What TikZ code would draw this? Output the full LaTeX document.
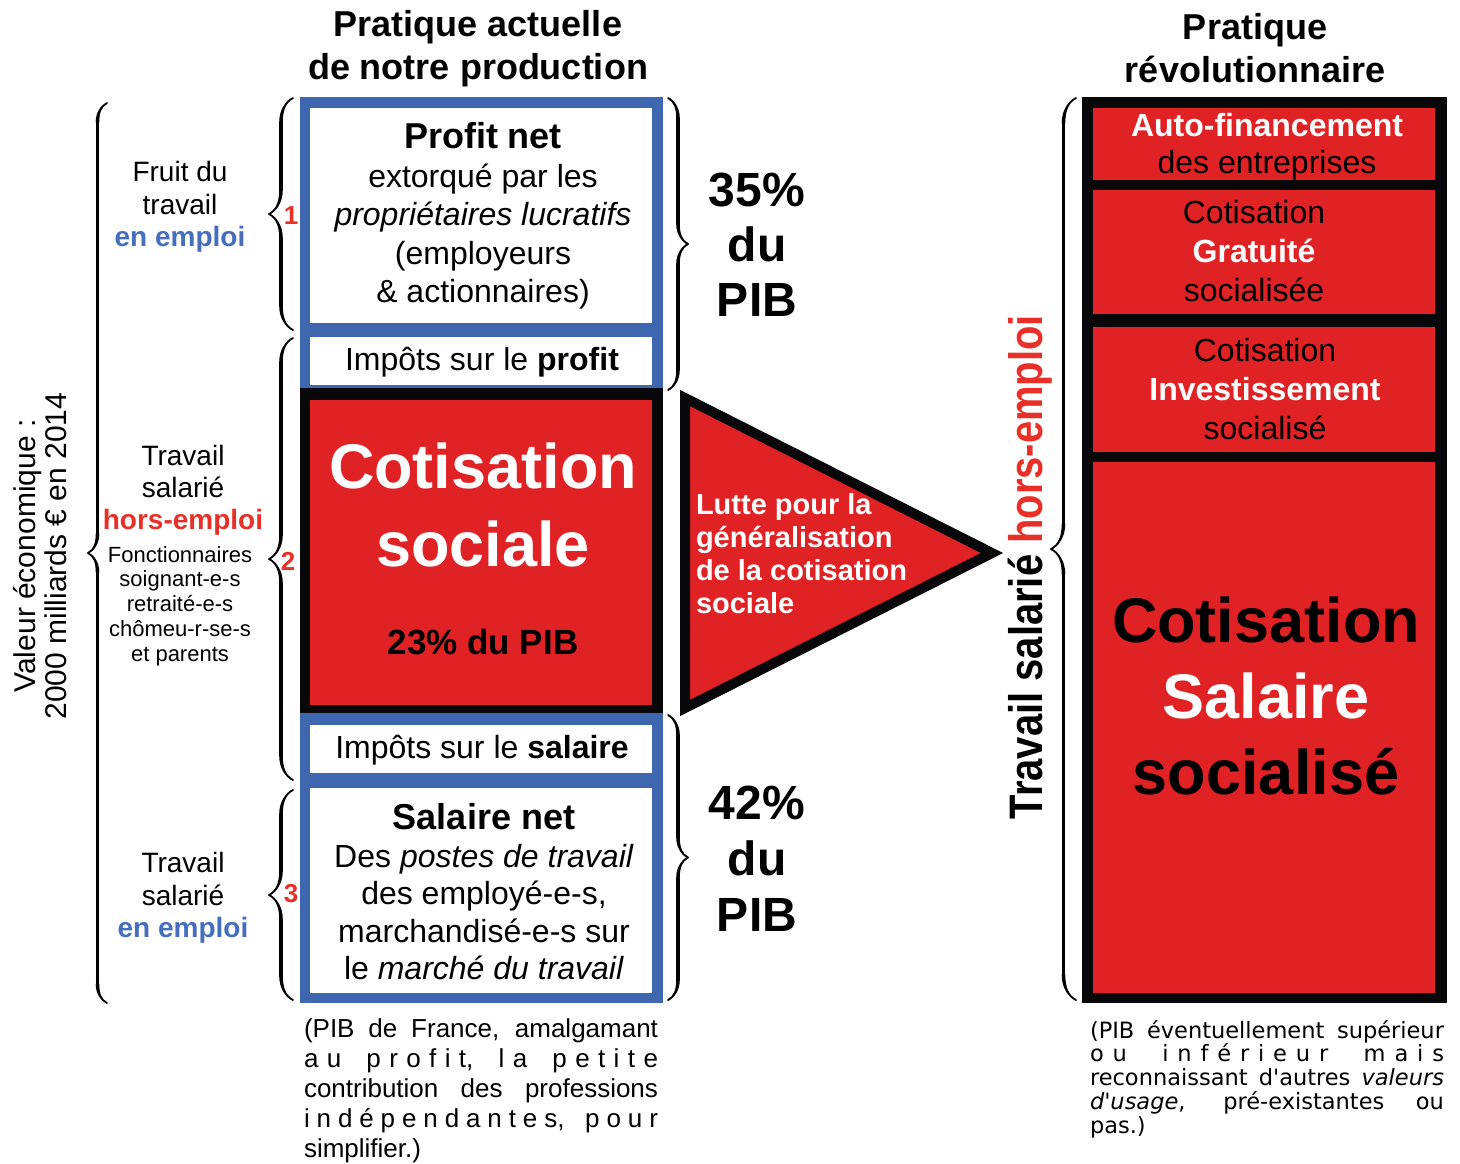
\documentclass[tikz,border=0pt]{standalone}
\usepackage{fontspec}
\setmainfont{Liberation Sans}
\newfontfamily\djv{DejaVu Sans}
\usetikzlibrary{decorations.pathreplacing,calligraphy}
\definecolor{cred}{RGB}{224,34,36}
\definecolor{cblue}{RGB}{63,103,176}
\definecolor{cblk}{RGB}{8,8,10}
\definecolor{ctred}{RGB}{232,48,40}
\definecolor{ctblue}{RGB}{70,110,190}
\newcommand{\fsz}[2]{\fontsize{#1}{#2}\selectfont}
\begin{document}
\begin{tikzpicture}[x=1pt,y=-1pt,
  every node/.style={inner sep=0pt, outer sep=0pt},
  panel/.style={rectangle, minimum width=342pt},
  wpanel/.style={panel, fill=white},
  rpanel/.style={panel, fill=cred},
  lbl/.style={align=center, font=\fsz{32}{38.5}},
  ttl/.style={align=center, font=\fsz{36}{43}\bfseries},
  brc/.style={decorate, decoration={calligraphic brace, amplitude=#1}, line width=3.6pt, pen colour=black},
  num/.style={text=ctred, font=\fsz{26}{28}\bfseries},
]
\useasboundingbox (0,0) rectangle (1460,1163);
\fill[white] (0,0) rectangle (1460,1163);

% titles
\node[ttl] (t1) at (478,49) {Pratique actuelle\\de notre production};
\node[ttl] (t2) at (1255,48) {Pratique\\révolutionnaire};

% middle column frames
\fill[cblue] (300,97) rectangle (663,388);
\fill[cblk] (300,388) rectangle (663,713);
\fill[cblue] (300,713) rectangle (663,1003);

\node[wpanel, minimum height=215pt] (profit) at (481,215.5) {};
\node[wpanel, minimum height=48pt] (impp) at (481,361) {};
\node[rpanel, minimum height=305pt] (cotis) at (481,552.5) {};
\node[wpanel, minimum height=48pt] (imps) at (481,749) {};
\node[wpanel, minimum height=205pt] (salnet) at (481,890.5) {};

\node[lbl] (profitT) at (483,216) {{\fsz{36}{38.5}\bfseries Profit net}\\extorqué par les\\\textit{propriétaires lucratifs}\\(employeurs\\\& actionnaires)};
\node[lbl] (imppT) at (482,362) {Impôts sur le \textbf{profit}};
\node[align=center, text=white, font=\fsz{63}{78}\bfseries] (cotisT) at (483,505) {Cotisation\\sociale};
\node[font=\fsz{35}{38}\bfseries] (pct23) at (483,642) {23\% du PIB};
\node[lbl] (impsT) at (482,750) {Impôts sur le \textbf{salaire}};
\node[lbl, font=\fsz{32}{37.5}] (salT) at (484,892) {{\fsz{36}{37.5}\bfseries Salaire net}\\Des \textit{postes de travail}\\des employé-e-s,\\marchandisé-e-s sur\\le \textit{marché du travail}};

% left labels
\node[rotate=90, align=center, font=\fsz{30}{31}] (val) at (40,556) {Valeur économique :\\2000 milliards € en 2014};
\node[align=center, font=\fsz{28}{32.5}] (fruit) at (180,207) {Fruit du\\travail\\\textcolor{ctblue}{\bfseries en emploi}};
\node[align=center, font=\fsz{28}{32}] (hors) at (183,490) {Travail\\salarié\\\textcolor{ctred}{\bfseries hors-emploi}};
\node[align=center, font=\fsz{22}{24.75}] (fonct) at (180,606) {Fonctionnaires\\soignant-e-s\\retraité-e-s\\chômeu-r-se-s\\et parents};
\node[align=center, font=\fsz{28}{32.5}] (emploi) at (183,898) {Travail\\salarié\\\textcolor{ctblue}{\bfseries en emploi}};

\node[num] (n1) at (291,216) {1};
\node[num] (n2) at (288,561) {2};
\node[num] (n3) at (291,894) {3};

% braces
\coordinate (bL1) at (107,1003); \coordinate (bL2) at (107,103);
\draw[brc=19pt] (bL1) -- (bL2);
\coordinate (b1a) at (293,330); \coordinate (b1b) at (293,98);
\draw[brc=24pt] (b1a) -- (b1b);
\coordinate (b2a) at (293,780); \coordinate (b2b) at (293,338);
\draw[brc=24pt] (b2a) -- (b2b);
\coordinate (b3a) at (293,1000); \coordinate (b3b) at (293,790);
\draw[brc=24pt] (b3a) -- (b3b);
\coordinate (bAa) at (668,98); \coordinate (bAb) at (668,390);
\draw[brc=20pt] (bAa) -- (bAb);
\coordinate (bBa) at (668,715); \coordinate (bBb) at (668,1000);
\draw[brc=20pt] (bBa) -- (bBb);
\coordinate (bRa) at (1076,1000); \coordinate (bRb) at (1076,98);
\draw[brc=25pt] (bRa) -- (bRb);

% percentages
\node[align=center, font=\fsz{48}{55}\bfseries] (p35) at (757,245) {35\%\\du\\PIB};
\node[align=center, font=\fsz{48}{56}\bfseries] (p42) at (757,859) {42\%\\du\\PIB};

% triangle
\coordinate (tA) at (685,398); \coordinate (tB) at (992,553); \coordinate (tC) at (685,708);
\filldraw[fill=cred, draw=cblk, line width=10pt, line join=miter] (tA) -- (tB) -- (tC) -- cycle;
\node[anchor=west, align=left, text=white, font=\fsz{29}{33}\bfseries] (lutte) at (696,554) {Lutte pour la\\généralisation\\de la cotisation\\sociale};

% rotated right label
\node[rotate=90, font=\fsz{47}{50}\bfseries] (tshe) at (1030,567) {\scalebox{0.85}[1]{Travail salarié \textcolor{ctred}{hors-emploi}}};

% right column
\fill[cblk] (1082,97) rectangle (1447,1003);
\node[rpanel, minimum height=72pt] (auto) at (1264,144) {};
\node[rpanel, minimum height=124pt] (grat) at (1264,252) {};
\node[rpanel, minimum height=125pt] (inv) at (1264,389.5) {};
\node[rpanel, minimum height=531pt] (sals) at (1264,727.5) {};

\node[align=center, font=\fsz{32}{37}] (autoT) at (1267,147) {\textcolor{white}{\bfseries Auto-financement}\\des entreprises};
\node[align=center, font=\fsz{32}{39}] (gratT) at (1254,251) {Cotisation\\\textcolor{white}{\bfseries Gratuité}\\socialisée};
\node[align=center, font=\fsz{32}{39}] (invT) at (1265,389) {Cotisation\\\textcolor{white}{\bfseries Investissement}\\socialisé};
\node[align=center, font=\fsz{63}{76}\bfseries] (salsT) at (1266,696) {Cotisation\\\textcolor{white}{Salaire}\\socialisé};

% footnotes
\node[anchor=north west, align=left, font=\fsz{26}{30}] (noteL) at (304,1019) {%
\makebox[354pt][s]{(PIB de France, amalgamant}\\
\makebox[354pt][s]{a u\ \ \ p r o f i t,\ \ \ l a\ \ \ p e t i t e}\\
\makebox[354pt][s]{contribution des professions}\\
\makebox[354pt][s]{i n d é p e n d a n t e s,\ \ \ p o u r}\\
simplifier.)};
\node[anchor=north west, align=left, font=\djv\fsz{22.5}{23.75}] (noteR) at (1090,1020) {%
\makebox[354pt][s]{(PIB éventuellement supérieur}\\
\makebox[354pt][s]{o u\ \ \ \ i n f é r i e u r\ \ \ \ m a i s}\\
\makebox[354pt][s]{reconnaissant d'autres \textit{valeurs}}\\
\makebox[354pt][s]{\textit{d'usage}, pré-existantes ou}\\
pas.)};
\end{tikzpicture}
\end{document}
